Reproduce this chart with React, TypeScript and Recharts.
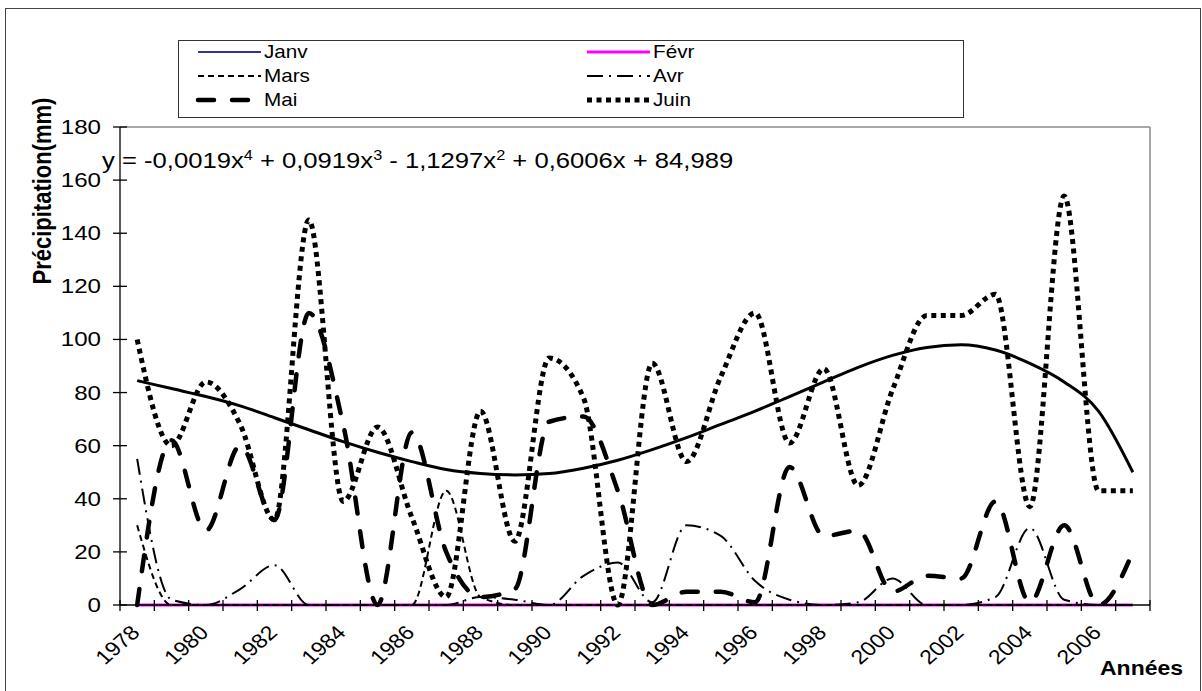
import React from 'react';
import { LineChart, Line, XAxis, YAxis, ReferenceLine } from 'recharts';

// Précipitations mensuelles (mm), 1978-2007
const years = [
  1978, 1979, 1980, 1981, 1982, 1983, 1984, 1985, 1986, 1987,
  1988, 1989, 1990, 1991, 1992, 1993, 1994, 1995, 1996, 1997,
  1998, 1999, 2000, 2001, 2002, 2003, 2004, 2005, 2006, 2007,
];
const janv = [0, 0, 0, 0, 0, 0, 0, 0, 0, 0, 0, 0, 0, 0, 0, 0, 0, 0, 0, 0, 0, 0, 0, 0, 0, 0, 0, 0, 0, 0];
const fevr = [0, 0, 0, 0, 0, 0, 0, 0, 0, 0, 0, 0, 0, 0, 0, 0, 0, 0, 0, 0, 0, 0, 0, 0, 0, 0, 0, 0, 0, 0];
const mars = [30, 0, 0, 0, 0, 0, 0, 0, 0, 43, 3, 0, 0, 0, 0, 0, 0, 0, 0, 0, 0, 0, 0, 0, 0, 0, 0, 0, 0, 0];
const avr = [55, 2, 0, 6, 15, 0, 0, 0, 0, 0, 3, 2, 0, 11, 16, 1, 30, 26, 9, 2, 0, 1, 10, 0, 0, 3, 29, 2, 0, 0];
const mai = [0, 62, 28, 60, 32, 110, 68, 0, 65, 20, 3, 6, 69, 71, 43, 0, 5, 5, 1, 52, 26, 28, 5, 11, 10, 39, 1, 30, 0, 20];
const juin = [100, 60, 84, 68, 32, 145, 39, 67, 33, 3, 73, 24, 93, 78, 0, 91, 54, 86, 110, 61, 89, 45, 81, 109, 109, 117, 37, 154, 43, 43];
// courbe de tendance polynomiale (Juin)
const tendance = [
  84.5, 81.5, 78.5, 75, 70.5, 66, 61.5, 57.5, 54, 51,
  49.5, 49, 49.5, 51.5, 54.5, 58.5, 63, 68, 73, 78.5,
  84, 89.5, 94, 97, 98, 96, 91, 84, 73, 50,
];

const yTicks = [0, 20, 40, 60, 80, 100, 120, 140, 160, 180];
const yearLabels = [1978, 1980, 1982, 1984, 1986, 1988, 1990, 1992, 1994, 1996, 1998, 2000, 2002, 2004, 2006];
const yearBounds = [...years.map((y) => y - 0.5), years[years.length - 1] + 0.5];
const xDomain = [yearBounds[0], yearBounds[yearBounds.length - 1]];

const rows = years.map((year, i) => ({
  year,
  janv: janv[i],
  fevr: fevr[i],
  mars: mars[i],
  avr: avr[i],
  mai: mai[i],
  juin: juin[i],
  tendance: tendance[i],
}));

type Serie = { key: string; name: string; color: string; width: number; dash?: string; cap?: 'butt' | 'round' };

const series: Serie[] = [
  { key: 'janv', name: 'Janv', color: '#333399', width: 2 },
  { key: 'fevr', name: 'Févr', color: '#ff00ff', width: 3 },
  { key: 'mars', name: 'Mars', color: '#000', width: 2, dash: '6 4' },
  { key: 'avr', name: 'Avr', color: '#000', width: 2, dash: '16 6 2 6' },
  { key: 'mai', name: 'Mai', color: '#000', width: 4.5, dash: '16 18', cap: 'round' },
  { key: 'juin', name: 'Juin', color: '#000', width: 5, dash: '5 4.5' },
];

const FONT = '"Liberation Sans", Arial, sans-serif';
const SX = 1.15; // texte légèrement élargi

const YTick = ({ x, y, payload }: any) => (
  <g>
    <line x1={x - 7} x2={x + 7} y1={y} y2={y} stroke="#000" strokeWidth={1.3} />
    <text
      transform={`translate(${x - 19},${y}) scale(${SX},1)`}
      textAnchor="end"
      dominantBaseline="central"
      fontSize={21}
      fontFamily={FONT}
      fill="#000"
    >
      {payload.value}
    </text>
  </g>
);

const BoundTick = ({ x, y }: any) => (
  <line x1={x} x2={x} y1={y - 5} y2={y + 6} stroke="#000" strokeWidth={1.3} />
);

const YearTick = ({ x, y, payload }: any) => (
  <text
    transform={`translate(${x + 4},${y + 28}) scale(${SX},1) rotate(-45)`}
    textAnchor="end"
    fontSize={20}
    fontFamily={FONT}
    fill="#000"
  >
    {payload.value}
  </text>
);

const legendCols = [198, 587];
const legendRows = [52, 76, 100];

export default function App() {
  return (
    <div
      style={{
        position: 'absolute',
        left: 0,
        top: 0,
        width: 1202,
        height: 691,
        background: '#fff',
        overflow: 'hidden',
      }}
    >
      <div style={{ position: 'absolute', left: 0, top: 0 }}>
        <LineChart width={1202} height={691} data={rows} margin={{ top: 127, right: 52, bottom: 26, left: 0 }}>
          <XAxis
            xAxisId="bounds"
            dataKey="year"
            type="number"
            domain={xDomain}
            ticks={yearBounds}
            interval={0}
            height={1}
            tickSize={0}
            tickMargin={0}
            tickLine={false}
            tick={BoundTick}
            axisLine={{ stroke: '#000', strokeWidth: 1.3 }}
          />
          <XAxis
            xAxisId="years"
            dataKey="year"
            type="number"
            domain={xDomain}
            ticks={yearLabels}
            interval={0}
            height={59}
            tickSize={0}
            tickMargin={0}
            tickLine={false}
            axisLine={false}
            tick={YearTick}
          />
          <YAxis
            type="number"
            domain={[0, 180]}
            ticks={yTicks}
            interval={0}
            width={120}
            tickSize={0}
            tickMargin={0}
            tickLine={false}
            tick={YTick}
            axisLine={{ stroke: '#000', strokeWidth: 1.3 }}
          />
          <ReferenceLine xAxisId="years" y={180} stroke="#8a8a8a" strokeWidth={1.5} />
          <ReferenceLine xAxisId="years" x={xDomain[1]} stroke="#8a8a8a" strokeWidth={1.5} />
          {series.map((s) => (
            <Line
              key={s.key}
              xAxisId="years"
              type="monotone"
              dataKey={s.key}
              name={s.name}
              stroke={s.color}
              strokeWidth={s.width}
              strokeDasharray={s.dash}
              strokeLinecap={s.cap ?? 'butt'}
              dot={false}
              activeDot={false}
              isAnimationActive={false}
            />
          ))}
          <Line
            xAxisId="years"
            type="monotone"
            dataKey="tendance"
            stroke="#000"
            strokeWidth={3}
            dot={false}
            activeDot={false}
            isAnimationActive={false}
          />
        </LineChart>
      </div>

      <svg
        width={1202}
        height={691}
        style={{ position: 'absolute', left: 0, top: 0, pointerEvents: 'none' }}
        fontFamily={FONT}
      >
        <rect x={5.5} y={8.5} width={1195} height={700} fill="none" stroke="#444" strokeWidth={1} />

        <rect x={178.5} y={40.5} width={785} height={77} fill="#fff" stroke="#333" strokeWidth={1} />
        {series.map((s, i) => {
          const lx = legendCols[i % 2];
          const ly = legendRows[Math.floor(i / 2)];
          return (
            <g key={s.key}>
              <line
                x1={lx}
                x2={lx + 63}
                y1={ly}
                y2={ly}
                stroke={s.color}
                strokeWidth={s.width}
                strokeDasharray={s.dash}
                strokeLinecap={s.cap ?? 'butt'}
              />
              <text
                transform={`translate(${lx + 66},${ly}) scale(${SX},1)`}
                dominantBaseline="central"
                fontSize={18}
                fill="#000"
              >
                {s.name}
              </text>
            </g>
          );
        })}

        <text transform="translate(102,168) scale(1.165,1)" fontSize={22} fill="#000">
          {'y = -0,0019x'}
          <tspan fontSize={14} dy={-8}>4</tspan>
          <tspan dy={8}>{' + 0,0919x'}</tspan>
          <tspan fontSize={14} dy={-8}>3</tspan>
          <tspan dy={8}>{' - 1,1297x'}</tspan>
          <tspan fontSize={14} dy={-8}>2</tspan>
          <tspan dy={8}>{' + 0,6006x + 84,989'}</tspan>
        </text>

        <text
          transform={`translate(51,191) scale(${SX},1) rotate(-90)`}
          textAnchor="middle"
          fontSize={22}
          fontWeight="bold"
          fill="#000"
        >
          Précipitation(mm)
        </text>

        <text transform={`translate(1100,675) scale(${SX},1)`} fontSize={20} fontWeight="bold" fill="#000">
          Années
        </text>
      </svg>
    </div>
  );
}
